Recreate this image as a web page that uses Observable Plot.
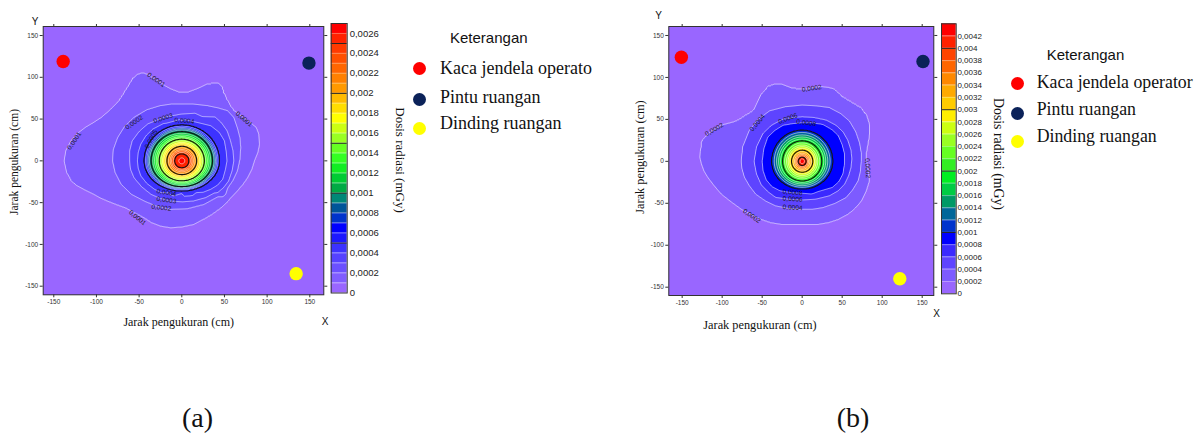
<!DOCTYPE html>
<html><head><meta charset="utf-8">
<script src="https://cdn.jsdelivr.net/npm/d3@7"></script>
<script src="https://cdn.jsdelivr.net/npm/@observablehq/plot@0.6"></script>
<style>
html,body{margin:0;padding:0;background:#fff;}
#root{position:relative;width:1199px;height:435px;overflow:hidden;background:#fff;}
.abs{position:absolute;}
.t{position:absolute;white-space:nowrap;line-height:1;color:#111;}
.serif{font-family:"Liberation Serif","Times New Roman",serif;}
.sans{font-family:"Liberation Sans",Arial,sans-serif;}
</style></head><body><div id="root"></div>
<script>
// ---------- shared ----------
const xTicks = [-150,-100,-50,0,50,100,150];
const yTicks = [-150,-100,-50,0,50,100,150];
const markerColors = ["#ff0000","#0b2259","#ffff00"];
const legendLabelsA = ["Kaca jendela operato","Pintu ruangan","Dinding ruangan"];
const legendLabelsB = ["Kaca jendela operator","Pintu ruangan","Dinding ruangan"];
// background (near-zero dose) sample points
const bgX = [-170,-110,-55,0,55,110,170,-170,-110,-55,0,55,110,170,-170,-170,-170,-170,-170,170,170,170,170,170,-120,0,120,130,120,0,-125];
const bgY = [170,170,170,170,170,170,170,-170,-170,-170,-170,-170,-170,-170,-110,-55,0,55,110,-110,-55,0,55,110,125,135,120,0,-105,-125,-100];

// ---------- panel (a) ----------
const levelsA = [0,0.0001,0.0002,0.0003,0.0004,0.0005,0.0006,0.0007,0.0008,0.0009,0.001,0.0011,0.0012,0.0013,0.0014,0.0015,0.0016,0.0017,0.0018,0.0019,0.002,0.0021,0.0022,0.0023,0.0024,0.0025,0.0026];
const topA = 0.0027;
const colorsA = ["#9966ff","#805dff","#6b50ff","#5542ff","#3c32ff","#1c18ff","#0000ff","#0033cc","#005599","#008877","#00aa44","#00cc33","#11ee22","#33ff22","#66ff22","#99ff22","#ccff11","#ffff00","#ffdd00","#ffbb00","#ff9900","#ff8000","#ff6600","#ff5000","#ff3a00","#ff2200","#ff0000"];
const blackA = [0.0005,0.001,0.0015,0.002,0.0025];
const ticksA = [0,0.0002,0.0004,0.0006,0.0008,0.001,0.0012,0.0014,0.0016,0.0018,0.002,0.0022,0.0024,0.0026];
const peakA = 0.00268;
const innerLevelsA = [0.0005,0.0006,0.0007,0.0008,0.0009,0.001,0.0011,0.0012,0.0013,0.0014,0.0015,0.0016,0.0017,0.0018,0.0019,0.002,0.0021,0.0022,0.0023,0.0024,0.0025,0.0026];
const innerSideA = [44,42.5,41,39.5,38,36,34,32,30,28,26.5,24.5,22.5,21,19,17.5,15.5,13.5,12,10,8.5,3.5];
const innerTopA = [43,41.5,40,38.5,37,35,33,31,29,27.5,26,24,22,20.5,19,17.5,15.5,13.5,12,10,8.5,3.5];
const innerBottomA = [36,35,34,33,32,31,29.5,28,26.5,25,24,22.5,21,19.5,18,16.5,15,13,11.5,10,8.5,3.5];
const ringA4x = [0,18,34,44,50,52,53,51,48,42,34,17,0,-16,-32,-41,-48,-51,-52,-51,-48,-42,-34,-18];
const ringA4y = [48,46,42,34,24,12,0,-11,-22,-29,-34,-38,-39,-38,-34,-27,-18,-9,0,10,20,30,38,45];
const ringA3x = [0,24,46,53,57,60,61,59,55,49,42,28,14,0,-13,-25,-36,-47,-56,-60,-61,-61,-58,-50,-40,-21];
const ringA3y = [56,53,46,36,24,12,0,-12,-24,-32,-38,-44,-48,-49,-48,-45,-40,-31,-20,-10,0,12,24,35,44,52];
const ringA2x = [0,13,30,44,54,61,65,68,69,68,65,60,54,42,26,7,-13,-30,-44,-59,-71,-78,-81,-80,-75,-67,-56,-41,-25,-12];
const ringA2y = [68,68,66,63,60,52,40,28,16,2,-12,-23,-32,-43,-52,-57,-58,-54,-48,-40,-28,-14,0,14,28,41,52,61,66,68];
const ringA1x = [-138,-136,-130,-122,-113,-103,-94,-85,-76,-68,-64,-62,-58,-52,-46,-40,-30,-20,-13,-3,7,15,22,30,38,44,48,50,53,61,70,80,87,90,91,89,85,82,77,70,61,54,46,35,25,14,0,-13,-25,-35,-44,-55,-66,-77,-87,-96,-103,-115,-124,-130,-135];
const ringA1y = [0,12,24,33,40,46,52,60,69,77,84,92,99,104,106,104,97,90,86,82,82,85,88,92,94,93,88,80,71,60,53,46,40,32,20,10,0,-10,-20,-30,-40,-48,-56,-64,-70,-76,-79,-80,-78,-74,-68,-62,-56,-52,-48,-44,-40,-34,-29,-24,-14];
const labelsAt = ["0,0001","0,0001","0,0001","0,0001","0,0002","0,0003","0,0004","0,0005","0,0004","0,0003","0,0002"];
const labelsAx = [-30,73,-52,-126,-56,-22,3,-36,-18,-18,-24];
const labelsAy = [97,50,-68,24,46,51,48,26,-38,-47,-56];
const labelsAr = [35,40,40,-55,-35,-18,5,-62,10,8,6];
const markerAx = [-139,149,134];
const markerAy = [119,117,-135];

// ---------- panel (b) ----------
const levelsB = [0,0.0002,0.0004,0.0006,0.0008,0.001,0.0012,0.0014,0.0016,0.0018,0.002,0.0022,0.0024,0.0026,0.0028,0.003,0.0032,0.0034,0.0036,0.0038,0.004,0.0042];
const topB = 0.0044;
const colorsB = ["#9966ff","#7d5bff","#5e44ff","#3b2aff","#0000ff","#0033cc","#006699","#009966","#00cc44","#00ee22","#33ee22","#66ff22","#99ff22","#ccff11","#ffee00","#ffcc00","#ffaa00","#ff8800","#ff6600","#ff4400","#ff2200","#ff0000"];
const blackB = [0.001,0.002,0.003,0.004];
const ticksB = levelsB;
const peakB = 0.0043;
const innerLevelsB = [0.001,0.0012,0.0014,0.0016,0.0018,0.002,0.0022,0.0024,0.0026,0.0028,0.003,0.0032,0.0034,0.0036,0.0038,0.004,0.0042];
const innerSideB = [38,35,32,29.5,27,24.5,22,19.5,17.5,15.5,13.3,11.5,9.5,8,6.5,5,3];
const innerTopB = [37,34.5,31.5,29,26.5,24.5,22,19.5,17.5,15.5,13.3,11.5,9.5,8,6.5,5,3];
const innerBottomB = [33,31,29,27,25,23.5,21,19,17,15,13,11.5,9.5,8,6.5,5,3];
const ringB4x = [-50,-48,-43,-34,-24,-12,0,13,26,37,45,50,53,53,51,46,38,20,0,-15,-28,-38,-45,-49];
const ringB4y = [0,15,29,37,43,45,46,46,44,38,31,20,9,-3,-15,-24,-31,-36,-38,-37,-35,-30,-22,-11];
const ringB3x = [-60,-57,-49,-38,-24,-12,0,15,30,42,51,57,61,62,61,58,53,45,34,17,0,-17,-33,-43,-51,-57];
const ringB3y = [0,17,33,43,50,52,53,52,49,43,35,25,13,3,-7,-17,-27,-35,-41,-45,-46,-45,-43,-36,-28,-15];
const ringB2x = [-76,-74,-66,-55,-41,-21,0,18,34,48,59,67,72,74,74,73,70,63,55,41,26,13,0,-17,-33,-46,-58,-66,-72,-75];
const ringB2y = [0,18,37,50,60,65,67,66,64,57,48,35,21,10,1,-11,-23,-34,-43,-50,-55,-57,-57,-56,-53,-47,-39,-29,-19,-9];
const ringB1x = [-128,-127,-126,-115,-101,-85,-68,-60,-51,-43,-35,-26,-15,-5,7,15,24,32,40,48,57,66,74,80,84,84,82,80,80,82,84,80,74,66,57,45,32,20,7,-10,-26,-39,-51,-64,-76,-89,-101,-110,-118,-123,-126];
const ringB1y = [5,15,25,35,43,47,50,62,80,90,92,92,88,84,86,88,89,88,86,79,68,65,64,56,44,32,21,10,1,-11,-23,-35,-47,-56,-63,-69,-73,-75,-75,-75,-75,-73,-69,-63,-57,-48,-39,-29,-19,-11,-3];
const labelsBt = ["0,0002","0,0002","0,0002","0,0002","0,0004","0,0006","0,0008","0,0008","0,0006","0,0004"];
const labelsBx = [12,-110,82,-63,-56,-18,5,-12,-12,-12];
const labelsBy = [87,38,-8,-65,46,51,46,-37,-45,-55];
const labelsBr = [-8,-30,88,35,-50,-20,8,5,4,3];
const markerBx = [-151,151,122];
const markerBy = [124,119,-140];

// ---------- helpers ----------
const angles = d3.range(0, 360, 7.5);
function fieldPoints(peak, innerLevels, side, top, bottom, rings) {
  const pts = [{x: 0, y: 0, v: peak}];
  innerLevels.forEach((lv, i) => {
    angles.forEach(a => {
      const t = a * Math.PI / 180, s = Math.sin(t);
      pts.push({x: side[i] * Math.cos(t), y: (s >= 0 ? top[i] : bottom[i]) * s, v: lv});
    });
  });
  rings.forEach(([lv, xs, ys]) => xs.forEach((x, j) => pts.push({x, y: ys[j], v: lv})));
  bgX.forEach((x, j) => pts.push({x, y: bgY[j], v: 0}));
  return pts;
}
const shift = L => L.map(l => l === 0 ? 0 : l - 1e-9);
const fmt = d => d === 0 ? "0" : String(d).replace(".", ",");
const zip = (t, x, y, r) => t.map((s, i) => ({t: s, x: x[i], y: y[i], r: r[i]}));

function mapPlot(o) {
  const thr = shift(o.levels);
  const white = shift(o.levels.filter(l => l > 0 && !o.black.includes(l)));
  const black = shift(o.black);
  const common = {x: "x", y: "y", interpolate: "barycentric", pixelSize: 1};
  return Plot.plot({
    width: o.width, height: o.height,
    marginLeft: o.ml, marginRight: o.mr, marginTop: o.mt, marginBottom: o.mb,
    style: {background: "transparent", fontFamily: "'Liberation Sans', Arial, sans-serif", fontSize: "6.5px", color: "#333", overflow: "visible"},
    x: {domain: o.xDomain},
    y: {domain: o.yDomain},
    color: {type: "threshold", domain: thr.slice(1), range: o.colors},
    marks: [
      Plot.frame({fill: o.colors[0], stroke: "none"}),
      Plot.contour(o.field, {...common, fill: "v", thresholds: thr}),
      Plot.contour(o.field, {...common, value: "v", thresholds: white, fill: "none", stroke: "white", strokeOpacity: 0.7, strokeWidth: 0.8}),
      Plot.contour(o.field, {...common, value: "v", thresholds: black, fill: "none", stroke: "#141414", strokeWidth: 1.1}),
      Plot.text(o.labels, {x: "x", y: "y", text: "t", rotate: "r", fontSize: 6.5, fill: "#1a1a1a"}),
      ...o.markers.map(m => Plot.dot([m], {x: "x", y: "y", r: 6.7, fill: m.c, stroke: "none"})),
      Plot.frame({stroke: "#333"}),
      Plot.axisX({anchor: "bottom", ticks: xTicks, tickSize: 3, tickPadding: 2, tickFormat: d => String(d), label: null}),
      Plot.axisX({anchor: "top", ticks: xTicks, tickSize: 3, fill: "none", label: null}),
      Plot.axisY({anchor: "left", ticks: yTicks, tickSize: 3, tickPadding: 2, tickFormat: d => String(d), label: null}),
      Plot.axisY({anchor: "right", ticks: yTicks, tickSize: 3, fill: "none", label: null})
    ]
  });
}

function colorbar(o) {
  const thr = shift(o.levels);
  const bands = o.levels.map((l, i) => ({lo: thr[i], y1: l, y2: i + 1 < o.levels.length ? o.levels[i + 1] : o.top}));
  return Plot.plot({
    width: o.width, height: o.height,
    marginLeft: o.ml, marginRight: o.mr, marginTop: o.mt, marginBottom: o.mb,
    style: {background: "transparent", fontFamily: "'Liberation Sans', Arial, sans-serif", fontSize: o.fontSize + "px", color: "#222", overflow: "visible"},
    y: {domain: [0, o.top]},
    color: {type: "threshold", domain: thr.slice(1), range: o.colors},
    marks: [
      Plot.rect(bands, {y1: "y1", y2: "y2", fill: "lo"}),
      Plot.ruleY(o.levels.slice(1), {stroke: "white", strokeOpacity: 0.45, strokeWidth: 0.7}),
      Plot.ruleY(o.black, {stroke: "#222", strokeWidth: 1}),
      Plot.frame({stroke: "#333"}),
      Plot.axisY({anchor: "right", ticks: o.ticks, tickSize: 0, tickPadding: o.pad, tickFormat: fmt, label: null})
    ]
  });
}

const root = document.getElementById("root");
function place(node, left, top) {
  const d = document.createElement("div");
  d.className = "abs"; d.style.left = left + "px"; d.style.top = top + "px";
  d.append(node); root.append(d);
}
function addText(str, x, y, cls, size, opts = {}) {
  const el = document.createElement("div");
  el.className = "t " + cls;
  el.textContent = str;
  el.style.left = x + "px"; el.style.top = y + "px"; el.style.fontSize = size + "px";
  const tx = opts.anchor === "start" ? "0" : "-50%";
  el.style.transform = `translate(${tx},-50%)` + (opts.rotate ? ` rotate(${opts.rotate}deg)` : "");
  root.append(el);
}
function addDot(x, y, r, color) {
  const d = document.createElement("div");
  d.className = "abs";
  Object.assign(d.style, {left: (x - r) + "px", top: (y - r) + "px", width: 2 * r + "px", height: 2 * r + "px", borderRadius: "50%", background: color});
  root.append(d);
}

// ---------- build panel (a) ----------
const fieldA = fieldPoints(peakA, innerLevelsA, innerSideA, innerTopA, innerBottomA,
  [[0.0004, ringA4x, ringA4y], [0.0003, ringA3x, ringA3y], [0.0002, ringA2x, ringA2y], [0.0001, ringA1x, ringA1y]]);
place(mapPlot({
  width: 327, height: 335, ml: 42.7, mr: 3.7, mt: 26, mb: 40.7,
  xDomain: [-162.4, 166.4], yDomain: [-160.3, 160.8],
  levels: levelsA, colors: colorsA, black: blackA, field: fieldA,
  labels: zip(labelsAt, labelsAx, labelsAy, labelsAr),
  markers: markerAx.map((x, i) => ({x, y: markerAy[i], c: markerColors[i]}))
}), 0, 0);
place(colorbar({
  width: 75, height: 310, ml: 3.7, mr: 55.3, mt: 23, mb: 17.5,
  levels: levelsA, top: topA, colors: colorsA, black: blackA, ticks: ticksA, fontSize: 9.5, pad: 2.5
}), 327, 0);

// ---------- build panel (b) ----------
const fieldB = fieldPoints(peakB, innerLevelsB, innerSideB, innerTopB, innerBottomB,
  [[0.0008, ringB4x, ringB4y], [0.0006, ringB3x, ringB3y], [0.0004, ringB2x, ringB2y], [0.0002, ringB1x, ringB1y]]);
place(mapPlot({
  width: 312, height: 335, ml: 43.3, mr: 3.7, mt: 26, mb: 40,
  xDomain: [-166.7, 164.5], yDomain: [-159.9, 160.7],
  levels: levelsB, colors: colorsB, black: blackB, field: fieldB,
  labels: zip(labelsBt, labelsBx, labelsBy, labelsBr),
  markers: markerBx.map((x, i) => ({x, y: markerBy[i], c: markerColors[i]}))
}), 625, 0);
place(colorbar({
  width: 70, height: 310, ml: 4, mr: 51.3, mt: 23.3, mb: 16.7,
  levels: levelsB, top: topB, colors: colorsB, black: blackB, ticks: ticksB, fontSize: 8, pad: 1.2
}), 937, 0);

// ---------- texts ----------
addText("Y", 35, 22, "sans", 10);
addText("Y", 658.7, 16, "sans", 10);
addText("X", 325, 321.7, "sans", 10);
addText("X", 936.7, 313.5, "sans", 10);
addText("Jarak pengukuran (cm)", 178.7, 321.7, "serif", 12);
addText("Jarak pengukuran (cm)", 760, 325, "serif", 12.3);
addText("Jarak pengukuran (cm)", 15, 161.7, "serif", 11.5, {rotate: -90});
addText("Jarak pengukuran (cm)", 640, 157, "serif", 12.3, {rotate: -90});
addText("Dosis radiasi (mGy)", 400, 160, "serif", 13, {rotate: 90});
addText("Dosis radiasi (mGy)", 998, 154, "serif", 13.8, {rotate: 90});
addText("Keterangan", 450, 37, "sans", 15, {anchor: "start"});
addText("Keterangan", 1046.7, 54.3, "sans", 15, {anchor: "start"});
const legDotYA = [68.3, 99.3, 128.3], legTextYA = [68.3, 96.7, 123.3];
const legDotYB = [83.3, 113.3, 141.7], legTextYB = [83.3, 110, 136.7];
legendLabelsA.forEach((s, i) => { addDot(419.3, legDotYA[i], 6.7, markerColors[i]); addText(s, 440, legTextYA[i], "serif", 18, {anchor: "start"}); });
legendLabelsB.forEach((s, i) => { addDot(1017.3, legDotYB[i], 6.7, markerColors[i]); addText(s, 1036.7, legTextYB[i], "serif", 17.8, {anchor: "start"}); });
addText("(a)", 197.5, 418, "serif", 28);
addText("(b)", 853, 418, "serif", 28);
</script></body></html>
